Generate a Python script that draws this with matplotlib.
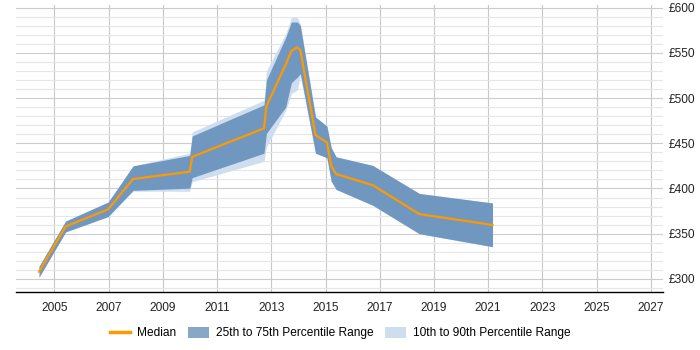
import matplotlib.pyplot as plt
from matplotlib.lines import Line2D
from matplotlib.patches import Patch
from matplotlib.ticker import MultipleLocator, FuncFormatter

plt.rcParams['font.family'] = ['Liberation Sans', 'DejaVu Sans']

# values (day rate, GBP)
years = [2004.43, 2005.41, 2006.98, 2007.90, 2009.99, 2010.08, 2012.73, 2012.82,
         2013.53, 2013.74, 2013.96, 2014.07, 2014.63, 2015.05, 2015.21, 2015.39,
         2016.74, 2018.46, 2021.16]
median = [308, 358, 377, 410.5, 418.6, 435, 466.5, 491, 537, 552, 556, 553,
          459, 451, 425, 416, 403.7, 371.7, 359.7]
p75 = [314, 364, 385, 425, 436.5, 458, 492.5, 520, 567, 584, 584, 580,
       479, 469, 445, 435, 425.5, 394.5, 384]
p25 = [302, 352, 369, 398, 400.3, 412, 439, 461, 490, 517, 523, 527,
       439, 434, 408, 399, 381.5, 350, 335.7]
p90 = [314, 364, 385, 425, 439, 462.5, 497.5, 530, 571, 589, 589, 582,
       479, 469, 445, 435, 425.5, 394.5, 384]
p10 = [302, 352, 369, 397, 397, 407.5, 430, 446, 486, 505, 509, 524,
       439, 434, 408, 399, 381.5, 350, 335.7]

x_ticks = list(range(2005, 2028, 2))

c_mid = '#7097c0'
c_outer = '#cedeee'
c_median = '#ff9900'
fs = 8.6

fig = plt.figure(figsize=(7, 3.5), dpi=100)
ax = fig.add_axes([16 / 700, 1 - 292 / 350, (663 - 16) / 700, (292 - 5) / 350])

ax.fill_between(years, p10, p90, color=c_outer, lw=0, zorder=2)
ax.fill_between(years, p25, p75, color=c_mid, lw=0, zorder=3)
ax.plot(years, median, color=c_median, lw=1.6, zorder=4)

ax.set_xlim(2003.58, 2027.45)
ax.set_ylim(285.6, 602.8)

ax.set_xticks(x_ticks)
ax.yaxis.set_major_locator(MultipleLocator(50))
ax.yaxis.set_minor_locator(MultipleLocator(10))
ax.yaxis.set_major_formatter(FuncFormatter(lambda v, p: f'£{v:.0f}'))
ax.yaxis.tick_right()

ax.grid(axis='x', which='major', color='#c8c8c8', lw=0.8, zorder=0)
ax.grid(axis='y', which='major', color='#cccccc', lw=0.8, zorder=0)
ax.grid(axis='y', which='minor', color='#e6e6e6', lw=0.8, zorder=0)
ax.set_axisbelow(True)

for side in ['left', 'right', 'top']:
    ax.spines[side].set_visible(False)
ax.spines['bottom'].set_color('black')
ax.spines['bottom'].set_linewidth(1)

ax.tick_params(axis='x', length=0, pad=7, labelsize=fs, colors='#222222')
ax.tick_params(axis='y', which='both', length=0, pad=4, labelsize=fs, colors='#222222')

handles = [
    Line2D([0], [0], color=c_median, lw=2.5),
    Patch(facecolor='#88a6c6', edgecolor='none'),
    Patch(facecolor=c_outer, edgecolor='none'),
]
labels = ['Median', '25th to 75th Percentile Range', '10th to 90th Percentile Range']
fig.legend(handles, labels, loc='center', bbox_to_anchor=(340 / 700, 1 - 333 / 350),
           ncol=3, frameon=False, fontsize=fs, handlelength=1.7, handleheight=1.1,
           columnspacing=1.0, handletextpad=0.6)

fig.savefig('out.png', dpi=100)
